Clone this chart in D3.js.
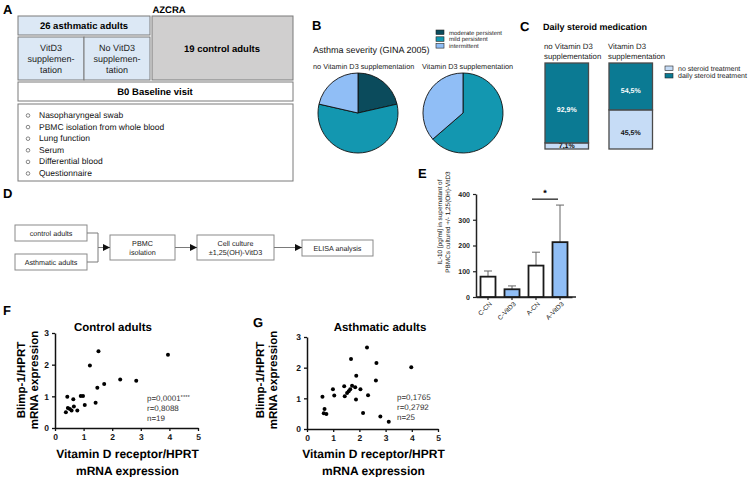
<!DOCTYPE html>
<html>
<head>
<meta charset="utf-8">
<script src="https://cdn.jsdelivr.net/npm/d3@7/dist/d3.min.js"></script>
<style>
  body { margin: 0; background: #fff; }
  svg { display: block; -webkit-font-smoothing: antialiased; text-rendering: geometricPrecision; }
</style>
</head>
<body>
<script>
const WIDTH = 749;
const HEIGHT = 477;
const FONT = '"Liberation Sans", Arial, sans-serif';

// B - asthma severity (counts per group)
const severityLabels = ['moderate persistent', 'mild persistent', 'intermittent'];
const severityColors = ['#0b4b5c', '#1397b0', '#90bef6'];
const severityNoVitD = [3, 8, 3];
const severityVitD = [0, 7, 4];
const pieTitles = ['no Vitamin D3 supplementation', 'Vitamin D3 supplementation'];

// C - daily steroid medication (%)
const steroidGroups = ['no Vitamin D3|supplementation', 'Vitamin D3|supplementation'];
const steroidLabels = ['no steroid treatment', 'daily steroid treatment'];
const steroidColors = ['#c6dcf6', '#0b7a93'];
const steroidNone = [7.1, 45.5];
const steroidDaily = [92.9, 54.5];

// E - IL-10 ELISA
const elisaGroups = ['C-CN', 'C-VitD3', 'A-CN', 'A-VitD3'];
const elisaMeans = [79, 30, 122, 213];
const elisaUpper = [101, 43, 174, 357];
const elisaTicks = [0, 100, 200, 300, 400];

// F - control adults
const controlVdr = [0.38, 0.43, 0.45, 0.52, 0.58, 0.64, 0.66, 0.78, 0.90, 0.98, 1.04, 1.42, 1.22, 1.52, 1.48, 1.72, 2.28, 2.84, 3.95];
const controlBlimp = [0.50, 0.99, 0.63, 0.60, 0.55, 0.91, 0.68, 0.55, 1.01, 1.01, 0.73, 0.80, 1.97, 2.42, 1.27, 1.39, 1.53, 1.49, 2.31];
const controlStats = ['p=0,0001', 'r=0,8088', 'n=19'];

// G - asthmatic adults
const asthmaVdr = [0.59, 0.67, 0.64, 0.74, 0.99, 1.04, 1.42, 1.44, 1.53, 1.59, 1.65, 1.72, 1.84, 1.88, 1.87, 1.68, 2.04, 2.14, 2.29, 2.33, 2.65, 2.63, 2.80, 3.12, 3.98];
const asthmaBlimp = [1.05, 0.65, 0.51, 0.49, 1.30, 1.09, 1.39, 1.07, 1.17, 1.23, 1.30, 1.41, 1.36, 1.74, 0.96, 2.28, 1.30, 0.52, 2.66, 1.10, 2.15, 1.58, 0.41, 0.24, 2.01];
const asthmaStats = ['p=0,1765', 'r=0,2792', 'n=25'];

const svg = d3.select('body').append('svg')
  .attr('width', WIDTH)
  .attr('height', HEIGHT)
  .style('font-family', FONT);

function addText(parent, x, y, str, size, opts = {}) {
  return parent.append('text')
    .attr('x', x)
    .attr('y', y)
    .attr('font-size', size)
    .attr('font-weight', opts.weight || 'normal')
    .attr('text-anchor', opts.anchor || 'start')
    .attr('fill', opts.fill || '#000')
    .text(str);
}

function addBox(parent, x, y, w, h, fill, stroke) {
  return parent.append('rect')
    .attr('x', x).attr('y', y)
    .attr('width', w).attr('height', h)
    .attr('fill', fill)
    .attr('stroke', stroke || '#7a7a7a')
    .attr('stroke-width', 1);
}

// panel letters
[['A', 3, 14], ['B', 312, 30], ['C', 520, 31], ['D', 3, 198], ['E', 418, 178], ['F', 3, 315], ['G', 253, 327]]
  .forEach(([l, x, y]) => addText(svg, x, y, l, 13, { weight: 'bold' }));

// ---------- A : study design ----------
const a = svg.append('g');
addText(a, 169, 13, 'AZCRA', 9.5, { weight: 'bold', anchor: 'middle' });
addBox(a, 18, 16, 132, 19, '#dce8f5');
addText(a, 84, 29, '26 asthmatic adults', 9.5, { weight: 'bold', anchor: 'middle' });
addBox(a, 18, 37, 66, 43, '#dce8f5');
addBox(a, 84, 37, 66, 43, '#dce8f5');
[['VitD3', 51], ['No VitD3', 117]].forEach(([t, cx]) => {
  [t, 'supplemen-', 'tation'].forEach((s, i) => addText(a, cx, 51 + i * 11, s, 9, { anchor: 'middle', fill: '#222' }));
});
addBox(a, 152, 16, 141, 64, '#d0cfcf');
addText(a, 222, 52, '19 control adults', 9.5, { weight: 'bold', anchor: 'middle' });
addBox(a, 18, 82, 275, 19, '#fff');
addText(a, 155, 95, 'B0 Baseline visit', 9.5, { weight: 'bold', anchor: 'middle' });
addBox(a, 18, 104, 275, 77, '#fff');
const visitItems = ['Nasopharyngeal swab', 'PBMC isolation from whole blood', 'Lung function', 'Serum', 'Differential blood', 'Questionnaire'];
visitItems.forEach((s, i) => {
  const cy = 115 + i * 11.6;
  a.append('circle').attr('cx', 28).attr('cy', cy + 0.5).attr('r', 1.8)
    .attr('fill', 'none').attr('stroke', '#555').attr('stroke-width', 0.7);
  addText(a, 39, cy + 3, s, 8.5, { fill: '#111' });
});

// ---------- D : workflow ----------
const dg = svg.append('g');
svg.append('defs').append('marker')
  .attr('id', 'arrow').attr('viewBox', '0 0 10 10')
  .attr('refX', 10).attr('refY', 5)
  .attr('markerWidth', 7).attr('markerHeight', 7)
  .attr('markerUnits', 'userSpaceOnUse')
  .attr('orient', 'auto')
  .append('path').attr('d', 'M0,0L10,5L0,10Z').attr('fill', '#111');
const flowBoxes = [
  { x: 15, y: 225, w: 72, h: 16, lines: ['control adults'] },
  { x: 15, y: 254, w: 72, h: 16, lines: ['Asthmatic adults'] },
  { x: 110, y: 235, w: 65, h: 25, lines: ['PBMC', 'isolation'] },
  { x: 197, y: 235, w: 77, h: 25, lines: ['Cell culture', '\u00b11,25(OH)-VitD3'] },
  { x: 302, y: 240, w: 71, h: 16, lines: ['ELISA analysis'] },
];
flowBoxes.forEach((b) => {
  addBox(dg, b.x, b.y, b.w, b.h, '#fff', '#8a8a8a');
  const cy = b.y + b.h / 2;
  b.lines.forEach((s, i) => {
    addText(dg, b.x + b.w / 2, cy + 2.6 + (i - (b.lines.length - 1) / 2) * 9, s, 7.2, { anchor: 'middle', fill: '#222' });
  });
});
const linkColor = '#7a7a7a';
dg.append('path').attr('d', 'M87,233H98V262H87')
  .attr('fill', 'none').attr('stroke', linkColor).attr('stroke-width', 1);
[[98, 110], [175, 197], [274, 302]].forEach(([x1, x2]) => {
  dg.append('line').attr('x1', x1).attr('x2', x2).attr('y1', 247.5).attr('y2', 247.5)
    .attr('stroke', linkColor).attr('stroke-width', 1).attr('marker-end', 'url(#arrow)');
});

// ---------- B : pies ----------
const b = svg.append('g');
addText(b, 313, 53, 'Asthma severity (GINA 2005)', 9, { fill: '#111' });
severityLabels.forEach((s, i) => {
  b.append('rect').attr('x', 436).attr('y', 30 + i * 6.8).attr('width', 8).attr('height', 4.5)
    .attr('fill', severityColors[i]).attr('stroke', '#222').attr('stroke-width', 0.6);
  addText(b, 449, 34.5 + i * 6.8, s, 6, { fill: '#222' });
});
const pie = d3.pie().sort(null).value((d) => d);
const arc = d3.arc().innerRadius(0).outerRadius(40);
[[severityNoVitD, 358, 313], [severityVitD, 463, 422]].forEach(([vals, cx, tx], k) => {
  addText(b, tx, 69, pieTitles[k], 7.3, { fill: '#222' });
  b.append('g').attr('transform', `translate(${cx},113)`)
    .selectAll('path')
    .data(pie(vals).filter((d) => d.value > 0))
    .join('path')
    .attr('d', arc)
    .attr('fill', (d) => severityColors[d.index])
    .attr('stroke', '#111')
    .attr('stroke-width', 0.9);
});

// ---------- C : stacked 100% bars ----------
const c = svg.append('g');
addText(c, 543, 30, 'Daily steroid medication', 9, { weight: 'bold' });
const xC = d3.scaleBand().domain(steroidGroups).range([545, 652.5]).paddingInner(0.32).paddingOuter(0);
const yC = d3.scaleLinear().domain([0, 100]).range([149, 63]);
steroidGroups.forEach((g, i) => {
  g.split('|').forEach((s, j) => addText(c, xC(g) - 1, 49 + j * 9.5, s, 7.8, { fill: '#222' }));
  const none = steroidNone[i];
  const daily = steroidDaily[i];
  const segs = [
    { y0: 0, y1: none, col: steroidColors[0], txt: `${String(none).replace('.', ',')}%`, tc: '#111' },
    { y0: none, y1: none + daily, col: steroidColors[1], txt: `${String(daily).replace('.', ',')}%`, tc: '#fff' },
  ];
  segs.forEach((sg) => {
    c.append('rect')
      .attr('x', xC(g)).attr('width', xC.bandwidth())
      .attr('y', yC(sg.y1)).attr('height', yC(sg.y0) - yC(sg.y1))
      .attr('fill', sg.col).attr('stroke', '#4a4a4a').attr('stroke-width', 1.3);
    const h = yC(sg.y0) - yC(sg.y1);
    addText(c, xC(g) + xC.bandwidth() / 2, (yC(sg.y0) + yC(sg.y1)) / 2 + 2.5 + (h > 20 ? h * 0.08 : 0), sg.txt, 7, { weight: 'bold', anchor: 'middle', fill: sg.tc });
  });
});
steroidLabels.forEach((s, i) => {
  c.append('rect').attr('x', 665).attr('y', 66 + i * 7.5).attr('width', 8).attr('height', 4.5)
    .attr('fill', steroidColors[i]).attr('stroke', '#222').attr('stroke-width', 0.6);
  addText(c, 678, 70.5 + i * 7.5, s, 7, { fill: '#222' });
});

// ---------- E : IL-10 bars ----------
const e = svg.append('g');
const xE = d3.scaleBand().domain(elisaGroups).range([476, 572]).paddingInner(0.375).paddingOuter(0.1875);
const yE = d3.scaleLinear().domain([0, 400]).range([297, 194]);
const yAxisE = e.append('g').attr('transform', 'translate(476,0)')
  .call(d3.axisLeft(yE).tickValues(elisaTicks).tickSize(3).tickSizeOuter(0));
const xAxisE = e.append('g').attr('transform', 'translate(0,297)')
  .call(d3.axisBottom(xE).tickSize(3).tickSizeOuter(0));
e.append('line').attr('x1', 476).attr('x2', 576).attr('y1', 297).attr('y2', 297)
  .attr('stroke', '#222').attr('stroke-width', 1.5);
[yAxisE, xAxisE].forEach((ax) => {
  ax.select('.domain').attr('stroke', '#222').attr('stroke-width', 1.5);
  ax.selectAll('.tick line').attr('stroke', '#222').attr('stroke-width', 1.2);
});
yAxisE.selectAll('text').attr('font-size', 7).attr('font-weight', 'bold')
  .attr('font-family', FONT).attr('fill', '#222');
xAxisE.selectAll('text').attr('font-size', 6.5).attr('font-family', FONT).attr('fill', '#222')
  .attr('text-anchor', 'end').attr('dy', 0).attr('y', 6)
  .attr('transform', 'rotate(-45,0,6) translate(2,4)');
elisaGroups.forEach((g, i) => {
  const cx = xE(g) + xE.bandwidth() / 2;
  e.append('line').attr('x1', cx).attr('x2', cx)
    .attr('y1', yE(elisaMeans[i])).attr('y2', yE(elisaUpper[i]))
    .attr('stroke', '#666').attr('stroke-width', 1);
  e.append('line').attr('x1', cx - 4).attr('x2', cx + 4)
    .attr('y1', yE(elisaUpper[i])).attr('y2', yE(elisaUpper[i]))
    .attr('stroke', '#666').attr('stroke-width', 1);
});
e.selectAll('rect.bar').data(elisaGroups).join('rect')
  .attr('class', 'bar')
  .attr('x', (d) => xE(d))
  .attr('width', xE.bandwidth())
  .attr('y', (d, i) => yE(elisaMeans[i]))
  .attr('height', (d, i) => yE(0) - yE(elisaMeans[i]))
  .attr('fill', (d) => (d.endsWith('VitD3') ? '#90bef6' : '#fff'))
  .attr('stroke', '#1a1a1a')
  .attr('stroke-width', 1.8);
const sigX1 = xE('A-CN') + xE.bandwidth() / 2 - 4;
const sigX2 = xE('A-VitD3') + xE.bandwidth() / 2 - 2;
e.append('line').attr('x1', sigX1).attr('x2', sigX2).attr('y1', yE(380)).attr('y2', yE(380))
  .attr('stroke', '#111').attr('stroke-width', 1.2);
addText(e, (sigX1 + sigX2) / 2, yE(380) - 3, '*', 9, { weight: 'bold', anchor: 'middle' });
const yLabE = e.append('text').attr('transform', 'translate(446,222) rotate(-90)')
  .attr('text-anchor', 'middle').attr('font-size', 6.4).attr('fill', '#111');
yLabE.append('tspan').attr('x', 0).attr('y', -4).text('IL-10 [pg/ml] in supernatant of');
yLabE.append('tspan').attr('x', 0).attr('y', 4).text('PBMCs cultured +/- 1,25(OH)-VitD3');

// ---------- F / G : scatter ----------
function scatter(opt) {
  const g = svg.append('g');
  const x = d3.scaleLinear().domain([0, 5]).range(opt.xr);
  const y = d3.scaleLinear().domain([0, 3]).range(opt.yr);
  const ax = g.append('g').attr('transform', `translate(0,${opt.yr[0]})`)
    .call(d3.axisBottom(x).ticks(5).tickSize(3).tickSizeOuter(0));
  const ay = g.append('g').attr('transform', `translate(${opt.xr[0]},0)`)
    .call(d3.axisLeft(y).ticks(3).tickSize(3).tickSizeOuter(0));
  [ax, ay].forEach((s) => {
    s.select('.domain').attr('stroke', '#111').attr('stroke-width', 1.5);
    s.selectAll('.tick line').attr('stroke', '#111').attr('stroke-width', 1.3);
    s.selectAll('text').attr('font-size', 8.5).attr('font-weight', 'bold')
      .attr('font-family', FONT).attr('fill', '#111');
  });
  g.selectAll('circle').data(opt.xs).join('circle')
    .attr('cx', (d) => x(d))
    .attr('cy', (d, i) => y(opt.ys[i]))
    .attr('r', 2)
    .attr('fill', '#000');
  addText(g, opt.titleX, 331, opt.title, 11.5, { weight: 'bold', anchor: 'middle' });
  const xc = (opt.xr[0] + opt.xr[1]) / 2 + 1;
  addText(g, xc, 458, 'Vitamin D receptor/HPRT', 12, { weight: 'bold', anchor: 'middle' });
  addText(g, xc, 475, 'mRNA expression', 12, { weight: 'bold', anchor: 'middle' });
  const yl = g.append('text').attr('transform', `translate(${opt.yLabX},380) rotate(-90)`)
    .attr('text-anchor', 'middle').attr('font-size', 11.5).attr('font-weight', 'bold');
  yl.append('tspan').attr('x', 0).attr('y', 0).text('Blimp-1/HPRT');
  yl.append('tspan').attr('x', 0).attr('y', 13).text('mRNA expression');
  opt.stats.forEach((s, i) => {
    const t = addText(g, opt.statX, opt.statY + i * 10, s, 8, { fill: '#333' });
    if (i === 0 && opt.stars) {
      t.append('tspan').attr('font-size', 6).attr('dy', -2).text(opt.stars);
    }
  });
}

scatter({
  xr: [55, 198], yr: [428, 333], xs: controlVdr, ys: controlBlimp,
  title: 'Control adults', titleX: 113, yLabX: 25, stats: controlStats, stars: '****',
  statX: 147, statY: 401,
});
scatter({
  xr: [307, 438], yr: [429, 337], xs: asthmaVdr, ys: asthmaBlimp,
  title: 'Asthmatic adults', titleX: 380, yLabX: 264, stats: asthmaStats, stars: '',
  statX: 397, statY: 400,
});
</script>
</body>
</html>
